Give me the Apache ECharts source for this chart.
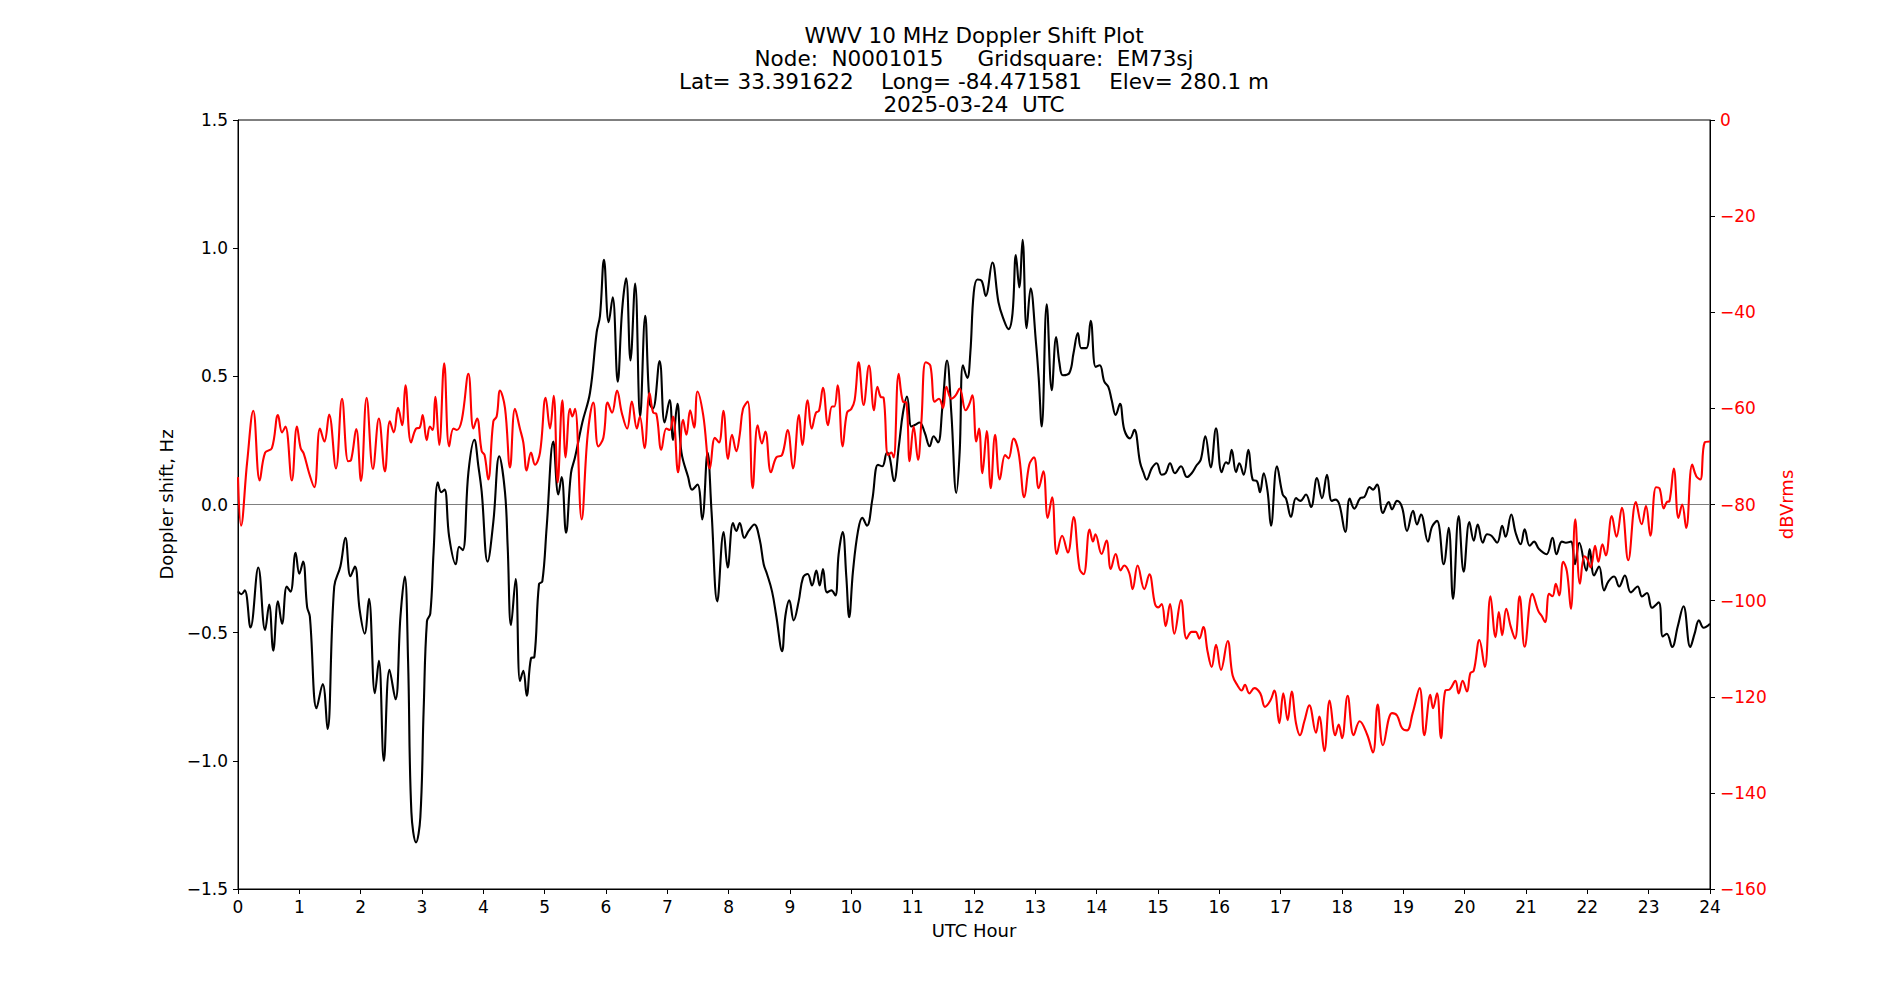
<!DOCTYPE html>
<html>
<head>
<meta charset="utf-8">
<script src="https://cdn.jsdelivr.net/npm/echarts/dist/echarts.min.js"></script>
<style>
html,body{margin:0;padding:0;background:#fff;}
#chart{width:1900px;height:1000px;}
</style>
</head>
<body>
<div id="chart"></div>
<script>
// ---- text ----
const titleLines = [
  'WWV 10 MHz Doppler Shift Plot',
  'Node:  N0001015     Gridsquare:  EM73sj',
  'Lat= 33.391622    Long= -84.471581    Elev= 280.1 m',
  '2025-03-24  UTC'
];
const xAxisName = 'UTC Hour';
const leftAxisName = 'Doppler shift, Hz';
const rightAxisName = 'dBVrms';

// ---- axis scales ----
const hourRange = [0, 24, 1];
const dopplerRange = [-1.5, 1.5, 0.5];
const dbRange = [-160, 0, 20];

// ---- Doppler shift (black, left axis) ----
const dopplerHours = [
  0.0,0.055,0.11,0.204,0.331,0.442,0.508,0.575,0.652,0.718,0.796,0.856,0.939,1.0,1.061,1.127,1.171,1.282,1.381,1.459,1.569,1.669,1.751,1.834,1.906,1.983,
  2.065,2.135,2.232,2.297,2.378,2.47,2.568,2.649,2.719,2.773,2.827,2.903,2.973,3.027,3.081,3.135,3.189,3.259,3.314,3.368,3.443,3.551,3.605,3.665,3.757,3.854,3.919,3.973,
  4.07,4.163,4.26,4.353,4.397,4.451,4.527,4.598,4.652,4.707,4.777,4.832,4.908,4.962,5.033,5.141,5.223,5.277,5.348,5.429,5.495,5.614,5.739,5.848,5.902,5.967,
  6.044,6.109,6.191,6.262,6.328,6.399,6.475,6.557,6.639,6.71,6.765,6.874,6.956,7.038,7.093,7.164,7.23,7.339,7.404,7.492,7.568,7.656,7.721,7.814,7.918,7.984,
  8.071,8.125,8.18,8.255,8.326,8.418,8.505,8.571,8.625,8.707,8.777,8.87,8.924,8.989,9.06,9.141,9.212,9.288,9.359,9.429,9.484,9.538,9.603,9.674,9.739,9.793,9.859,9.918,9.965,
  10.027,10.109,10.179,10.255,10.342,10.435,10.505,10.582,10.625,10.696,10.777,10.842,10.908,10.978,11.033,11.114,11.196,11.277,11.342,11.413,11.484,11.56,11.63,11.712,11.766,11.82,11.891,11.94,11.995,
  12.055,12.126,12.191,12.3,12.399,12.475,12.563,12.628,12.683,12.738,12.792,12.858,12.923,13.011,13.055,13.104,13.186,13.268,13.339,13.393,13.448,13.557,13.623,13.694,13.749,13.831,13.902,13.984,
  14.05,14.125,14.19,14.245,14.31,14.38,14.451,14.543,14.614,14.707,14.761,14.815,14.897,14.978,15.06,15.125,15.196,15.277,15.375,15.473,15.549,15.63,15.696,15.772,15.859,15.946,
  16.038,16.109,16.147,16.201,16.272,16.326,16.397,16.473,16.543,16.614,16.663,16.723,16.788,16.842,16.94,17.033,17.087,17.168,17.25,17.321,17.413,17.495,17.592,17.674,17.755,17.832,17.891,17.957,
  18.054,18.125,18.201,18.299,18.364,18.451,18.505,18.571,18.668,18.761,18.815,18.897,18.978,19.06,19.158,19.223,19.288,19.402,19.467,19.549,19.658,19.739,19.81,19.902,19.984,
  20.077,20.148,20.213,20.295,20.366,20.437,20.53,20.612,20.667,20.76,20.831,20.913,20.978,21.06,21.131,21.213,21.333,21.432,21.497,21.585,21.65,21.732,21.798,21.869,21.984,
  22.038,22.109,22.191,22.273,22.344,22.437,22.519,22.612,22.71,22.82,22.891,22.973,23.055,23.164,23.23,23.295,23.383,23.475,23.568,23.678,23.749,23.82,23.896,24.0
];
const dopplerHz = [
  -0.339,-0.35,-0.335,-0.48,-0.246,-0.49,-0.39,-0.57,-0.378,-0.465,-0.32,-0.34,-0.188,-0.27,-0.223,-0.40,-0.436,-0.795,-0.70,-0.876,-0.32,-0.242,-0.13,-0.28,-0.242,-0.41,
  -0.504,-0.368,-0.736,-0.61,-1.0,-0.645,-0.76,-0.436,-0.281,-0.61,-1.2,-1.318,-1.22,-0.80,-0.455,-0.426,-0.184,0.087,0.048,0.058,-0.126,-0.233,-0.165,-0.178,0.126,0.252,0.15,0.05,
  -0.223,-0.068,0.188,0.048,-0.165,-0.471,-0.291,-0.688,-0.649,-0.746,-0.60,-0.595,-0.31,-0.30,-0.087,0.246,0.039,0.107,-0.11,0.122,0.184,0.32,0.436,0.672,0.736,0.955,
  0.711,0.808,0.479,0.756,0.882,0.562,0.862,0.343,0.736,0.397,0.374,0.56,0.32,0.407,0.252,0.393,0.203,0.107,0.058,0.078,-0.058,0.203,-0.029,-0.378,-0.107,-0.246,
  -0.072,-0.103,-0.072,-0.13,-0.103,-0.078,-0.136,-0.233,-0.271,-0.339,-0.436,-0.572,-0.436,-0.374,-0.452,-0.378,-0.285,-0.271,-0.316,-0.258,-0.316,-0.252,-0.343,-0.335,-0.355,-0.194,-0.107,-0.281,-0.44,
  -0.26,-0.103,-0.052,-0.083,0.019,0.155,0.149,0.203,0.184,0.091,0.233,0.358,0.421,0.304,0.31,0.32,0.281,0.227,0.266,0.242,0.378,0.562,0.358,0.045,0.203,0.543,0.494,0.591,0.824,
  0.878,0.872,0.814,0.944,0.789,0.727,0.684,0.746,0.973,0.847,1.033,0.688,0.843,0.63,0.494,0.304,0.781,0.446,0.653,0.552,0.504,0.514,0.591,0.669,0.61,0.61,0.717,0.537,
  0.543,0.479,0.459,0.407,0.349,0.393,0.291,0.258,0.291,0.165,0.126,0.097,0.141,0.161,0.116,0.122,0.161,0.122,0.149,0.107,0.122,0.153,0.174,0.266,0.145,0.297,
  0.126,0.165,0.159,0.213,0.126,0.161,0.116,0.213,0.097,0.091,0.048,0.122,0.048,-0.083,0.149,0.039,0.023,-0.048,0.025,0.014,0.039,-0.01,0.103,0.025,0.116,0.014,0.019,0.0,
  -0.107,0.023,-0.016,0.025,0.029,0.068,0.058,0.078,-0.033,0.01,-0.019,0.014,-0.01,-0.103,-0.025,-0.078,-0.039,-0.145,-0.087,-0.064,-0.233,-0.091,-0.368,-0.045,-0.262,
  -0.068,-0.141,-0.078,-0.149,-0.116,-0.122,-0.149,-0.083,-0.126,-0.039,-0.11,-0.155,-0.097,-0.161,-0.145,-0.174,-0.194,-0.13,-0.194,-0.145,-0.149,-0.145,-0.233,-0.149,-0.258,
  -0.174,-0.277,-0.242,-0.335,-0.30,-0.281,-0.32,-0.277,-0.343,-0.32,-0.359,-0.345,-0.403,-0.382,-0.515,-0.504,-0.556,-0.475,-0.397,-0.556,-0.504,-0.452,-0.481,-0.465
];

// ---- Signal level (red, right axis) ----
const signalHours = [
  0.0,0.05,0.149,0.249,0.354,0.442,0.552,0.652,0.718,0.773,0.878,0.961,1.022,1.072,1.16,1.243,1.337,1.409,1.486,1.597,1.696,1.796,1.845,1.928,
  2.005,2.097,2.2,2.297,2.395,2.476,2.54,2.61,2.676,2.73,2.822,2.903,2.962,3.011,3.076,3.13,3.173,3.216,3.281,3.362,3.443,3.514,3.568,3.649,3.757,3.838,3.897,3.973,
  4.02,4.08,4.163,4.217,4.272,4.353,4.435,4.516,4.598,4.652,4.707,4.777,4.842,4.924,5.016,5.087,5.147,5.212,5.288,5.342,5.413,5.451,5.495,5.603,5.701,5.793,5.875,5.957,
  6.027,6.098,6.18,6.257,6.344,6.421,6.503,6.552,6.628,6.71,6.77,6.82,6.902,6.984,7.038,7.093,7.175,7.257,7.311,7.372,7.437,7.492,7.585,7.694,7.776,7.842,7.913,7.99,
  8.054,8.125,8.18,8.234,8.31,8.391,8.473,8.543,8.598,8.69,8.777,8.87,8.962,9.049,9.147,9.201,9.288,9.353,9.424,9.473,9.538,9.62,9.685,9.723,9.777,9.859,9.929,10.0,
  10.054,10.12,10.2,10.288,10.37,10.424,10.478,10.527,10.598,10.652,10.69,10.772,10.842,10.897,10.951,11.016,11.087,11.141,11.212,11.288,11.359,11.429,11.495,11.549,11.63,11.701,11.766,11.864,11.918,11.973,
  12.038,12.082,12.137,12.208,12.273,12.344,12.421,12.508,12.563,12.645,12.727,12.82,12.902,12.978,13.055,13.131,13.202,13.273,13.35,13.437,13.53,13.623,13.721,13.787,13.885,13.94,13.98,
  14.08,14.16,14.23,14.31,14.39,14.45,14.53,14.587,14.668,14.777,14.859,14.951,15.005,15.06,15.125,15.196,15.266,15.375,15.467,15.549,15.614,15.674,15.739,15.81,15.875,15.946,
  16.027,16.136,16.217,16.299,16.364,16.418,16.489,16.571,16.668,16.745,16.832,16.897,16.978,17.043,17.114,17.179,17.25,17.315,17.386,17.467,17.576,17.63,17.712,17.799,17.891,17.946,
  18.0,18.092,18.19,18.288,18.408,18.505,18.582,18.668,18.815,18.897,18.978,19.06,19.152,19.266,19.342,19.44,19.484,19.549,19.614,19.685,19.755,19.848,19.902,19.967,
  20.038,20.093,20.148,20.24,20.328,20.421,20.503,20.557,20.612,20.678,20.749,20.82,20.896,20.978,21.104,21.202,21.257,21.311,21.377,21.432,21.486,21.541,21.607,21.667,21.732,21.803,21.88,21.951,
  22.0,22.055,22.126,22.18,22.246,22.301,22.399,22.475,22.563,22.667,22.792,22.885,22.956,23.027,23.12,23.175,23.246,23.295,23.339,23.41,23.486,23.546,23.612,23.71,23.776,23.842,23.913,24.0
];
const signalDb = [
  -74.3,-84.4,-71.2,-60.5,-75.0,-69.2,-68.3,-61.4,-65.0,-63.8,-75.0,-63.8,-68.3,-69.4,-73.5,-76.4,-64.2,-66.9,-61.3,-72.5,-58.0,-71.0,-70.7,-64.3,
  -75.1,-57.8,-72.6,-62.1,-73.1,-62.7,-65.0,-59.9,-63.5,-55.2,-67.1,-64.2,-64.0,-61.4,-66.6,-63.8,-64.5,-57.6,-67.6,-50.6,-67.9,-64.2,-64.5,-62.4,-52.8,-64.2,-62.1,-68.9,
  -69.7,-74.8,-62.7,-61.7,-56.3,-59.9,-72.3,-60.1,-64.3,-67.1,-72.9,-69.2,-71.7,-69.2,-57.8,-64.2,-57.4,-75.4,-58.3,-70.2,-60.1,-61.7,-60.1,-83.1,-65.5,-58.8,-67.9,-66.1,
  -58.8,-60.9,-56.3,-60.9,-64.2,-58.6,-64.2,-61.7,-68.3,-56.8,-60.9,-61.1,-68.6,-64.2,-64.5,-61.7,-73.3,-62.4,-65.5,-60.4,-64.0,-56.5,-61.4,-72.5,-66.1,-67.1,-60.5,-70.5,
  -65.5,-68.9,-65.5,-60.1,-58.6,-76.6,-63.5,-67.3,-64.8,-73.3,-70.2,-69.7,-64.5,-72.5,-61.4,-67.6,-58.3,-64.2,-60.9,-60.5,-55.7,-63.5,-59.6,-59.6,-55.2,-67.9,-60.9,-60.1,
  -58.3,-50.4,-59.3,-51.1,-60.4,-55.5,-57.6,-57.8,-69.7,-69.2,-70.2,-52.8,-58.6,-58.8,-71.0,-63.8,-70.7,-63.0,-50.4,-51.1,-58.6,-58.0,-59.9,-55.5,-58.0,-57.3,-55.9,-60.4,-59.3,-57.3,
  -66.9,-64.2,-73.5,-64.7,-76.6,-65.5,-74.8,-69.7,-70.4,-66.3,-69.2,-78.5,-71.7,-70.2,-76.6,-73.1,-82.8,-78.5,-90.3,-86.5,-90.0,-82.6,-93.4,-94.5,-85.2,-87.7,-86.2,
  -90.3,-87.5,-93.4,-90.3,-93.7,-92.7,-94.2,-97.6,-92.7,-97.6,-94.5,-100.7,-101.4,-100.7,-105.3,-100.7,-106.9,-99.9,-107.9,-106.5,-106.5,-107.9,-105.5,-110.7,-113.8,-109.2,
  -114.4,-108.4,-115.6,-117.7,-118.7,-117.5,-119.3,-118.2,-119.3,-122.1,-120.8,-118.7,-125.5,-119.3,-124.9,-118.9,-125.5,-128.0,-125.1,-121.8,-127.5,-124.1,-131.3,-120.8,-128.0,-125.8,
  -128.6,-119.8,-128.0,-125.1,-127.8,-131.6,-121.6,-130.1,-123.4,-123.9,-126.5,-127.0,-123.4,-118.2,-128.0,-119.6,-122.4,-119.3,-128.6,-118.7,-118.5,-116.7,-119.3,-116.7,
  -118.9,-115.1,-114.6,-108.2,-113.8,-99.1,-107.6,-102.4,-107.2,-101.7,-105.3,-107.9,-99.1,-109.6,-98.6,-102.2,-103.2,-104.5,-98.6,-99.1,-96.5,-98.9,-91.9,-93.9,-101.7,-83.1,-96.5,-90.8,
  -91.4,-93.1,-88.6,-91.9,-88.3,-90.6,-82.4,-86.7,-80.7,-91.6,-79.5,-84.1,-80.3,-86.5,-76.4,-76.6,-80.8,-79.5,-79.3,-72.5,-82.8,-80.0,-84.9,-71.7,-74.1,-74.8,-67.1,-66.9
];

// ---- build ----
const FONT = '"DejaVu Sans", sans-serif';
const uminus = s => String(s).replace('-', '\u2212');
const dopplerData = dopplerHours.map((h, i) => [h, dopplerHz[i]]);
const signalData = signalHours.map((h, i) => [h, signalDb[i]]);

const chart = echarts.init(document.getElementById('chart'), null, {renderer: 'svg', width: 1900, height: 1000});

const axisCommon = {
  axisLine: {show: true, onZero: false, lineStyle: {color: '#000', width: 1}},
  axisTick: {show: true, inside: false, length: 5, lineStyle: {color: '#000', width: 1}},
  splitLine: {show: false}
};

const option = {
  backgroundColor: '#fff',
  animation: false,
  textStyle: {fontFamily: FONT},
  grid: {left: 238, right: 190, top: 120, bottom: 111, show: true, borderColor: '#000', borderWidth: 1, backgroundColor: 'transparent'},
  graphic: titleLines.map((t, i) => ({
    type: 'text', x: 974, y: 35 + 23.1 * i, silent: true,
    style: {text: t, fill: '#000', fontSize: 21.5, fontFamily: FONT, align: 'center', verticalAlign: 'middle', textAlign: 'center', textVerticalAlign: 'middle'}
  })),
  xAxis: Object.assign({
    type: 'value', min: hourRange[0], max: hourRange[1], interval: hourRange[2],
    name: xAxisName, nameLocation: 'middle', nameGap: 32,
    nameTextStyle: {color: '#000', fontSize: 18, fontFamily: FONT},
    axisLabel: {color: '#000', fontSize: 17, fontFamily: FONT, margin: 9}
  }, axisCommon),
  yAxis: [
    Object.assign({
      type: 'value', position: 'left', min: dopplerRange[0], max: dopplerRange[1], interval: dopplerRange[2],
      name: leftAxisName, nameLocation: 'middle', nameGap: 61,
      nameTextStyle: {color: '#000', fontSize: 18, fontFamily: FONT},
      axisLabel: {color: '#000', fontSize: 17, fontFamily: FONT, margin: 10, formatter: v => uminus(v.toFixed(1))}
    }, axisCommon),
    Object.assign({
      type: 'value', position: 'right', min: dbRange[0], max: dbRange[1], interval: dbRange[2],
      name: rightAxisName, nameLocation: 'middle', nameGap: 62,
      nameTextStyle: {color: '#ff0000', fontSize: 18, fontFamily: FONT},
      axisLabel: {color: '#ff0000', fontSize: 17, fontFamily: FONT, margin: 10, formatter: v => uminus(v)}
    }, axisCommon)
  ],
  series: [
    {
      name: 'Doppler shift', type: 'line', xAxisIndex: 0, yAxisIndex: 0, data: dopplerData,
      symbol: 'none', showSymbol: false, smooth: 0.4, z: 3,
      lineStyle: {color: '#000', width: 2.1},
      emphasis: {disabled: true},
      markLine: {
        silent: true, symbol: 'none', z: 1, animation: false,
        label: {show: false},
        lineStyle: {color: '#808080', width: 1, type: 'solid'},
        emphasis: {disabled: true},
        data: [{yAxis: 0}]
      }
    },
    {
      name: 'dBVrms', type: 'line', xAxisIndex: 0, yAxisIndex: 1, data: signalData,
      symbol: 'none', showSymbol: false, smooth: 0.4, z: 4,
      lineStyle: {color: '#ff0000', width: 2.1},
      emphasis: {disabled: true}
    }
  ]
};
chart.setOption(option);
</script>
</body>
</html>
